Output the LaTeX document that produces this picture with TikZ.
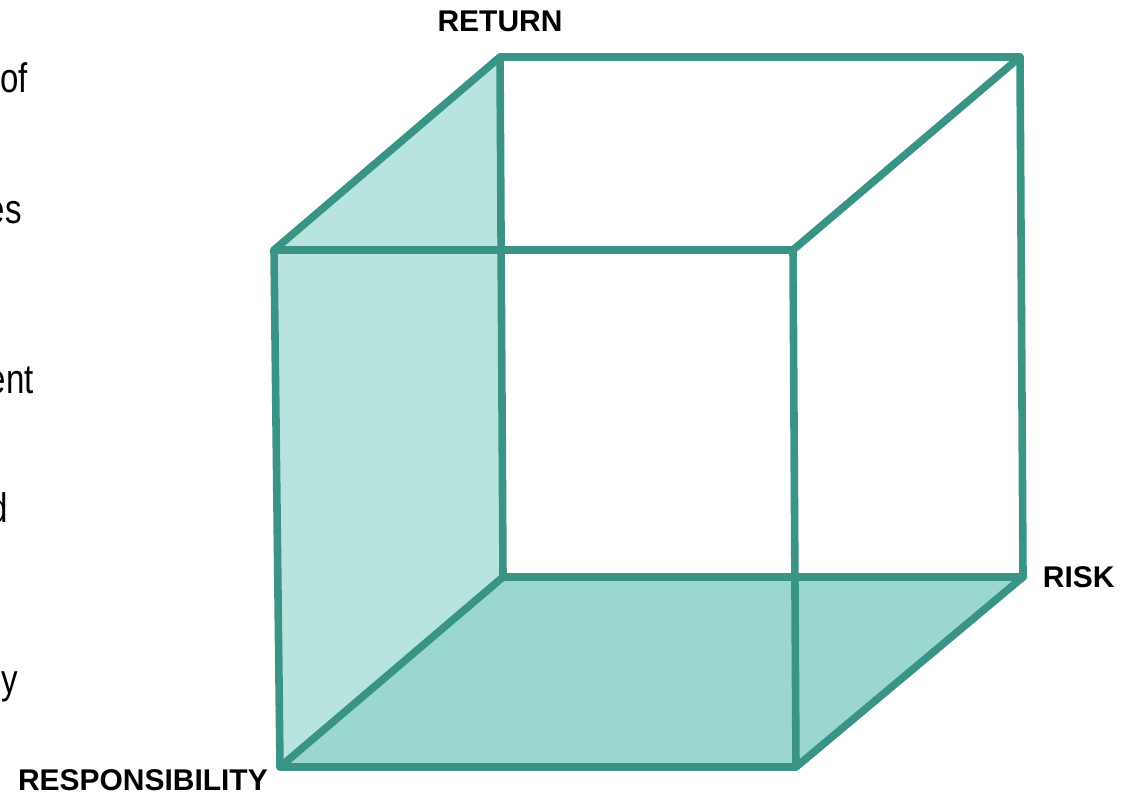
\documentclass[tikz,border=0pt]{standalone}
\usepackage{fontspec}
\setmainfont{Liberation Sans}
\usetikzlibrary{positioning}
\definecolor{cubeline}{RGB}{58,148,134}
\definecolor{sideface}{RGB}{184,228,223}
\definecolor{floorface}{RGB}{153,215,207}
\newcommand{\tallword}[1]{\scalebox{1}[1.25]{#1}}
\tikzset{
  edge/.style={line width=5.4pt,draw=cubeline,line cap=round,line join=round},
  axislabel/.style={font=\bfseries\fontsize{21.3}{25}\selectfont,inner sep=0pt},
  cuttext/.style={font=\fontsize{23.5}{28}\selectfont,inner sep=0pt,anchor=base east},
}
\begin{document}
\begin{tikzpicture}[x=0.025cm,y=-0.025cm]
  \useasboundingbox (0,0) rectangle (1129,795);
  % corners of the cube
  \coordinate (ftl) at (274,250);
  \coordinate (ftr) at (793,250);
  \coordinate (fbl) at (280,767);
  \coordinate (fbr) at (796,767);
  \coordinate (btl) at (500,57);
  \coordinate (btr) at (1020,57);
  \coordinate (bbl) at (503,577);
  \coordinate (bbr) at (1023,577);
  % shaded faces
  \fill[sideface] (ftl) -- (btl) -- (bbl) -- (fbl) -- cycle;
  \fill[floorface] (fbl) -- (bbl) -- (bbr) -- (fbr) -- cycle;
  % edges
  \draw[edge] (btl) -- (btr) -- (bbr) -- (bbl) -- cycle;
  \draw[edge] (ftl) -- (ftr) -- (fbr) -- (fbl) -- cycle;
  \draw[edge] (ftl) -- (btl);
  \draw[edge] (ftr) -- (btr);
  \draw[edge] (fbr) -- (bbr);
  \draw[edge] (fbl) -- (bbl);
  % labels
  \node[axislabel,above=17.5pt of btl] (ret) {RETURN};
  \node[axislabel,right=14pt of bbr] (risk) {RISK};
  \node[axislabel,anchor=east] (resp) at (268,780) {RESPONSIBILITY};
  % text cut off at the left edge
  \node[cuttext] (t1) at (28,93) {\tallword{of}};
  \node[cuttext] (t2) at (22,223) {\tallword{es}};
  \node[cuttext] (t3) at (34,393) {\tallword{ent}};
  \node[cuttext] (t4) at (8,522) {\tallword{d}};
  \node[cuttext] (t5) at (18,693) {\tallword{y}};
\end{tikzpicture}
\end{document}
